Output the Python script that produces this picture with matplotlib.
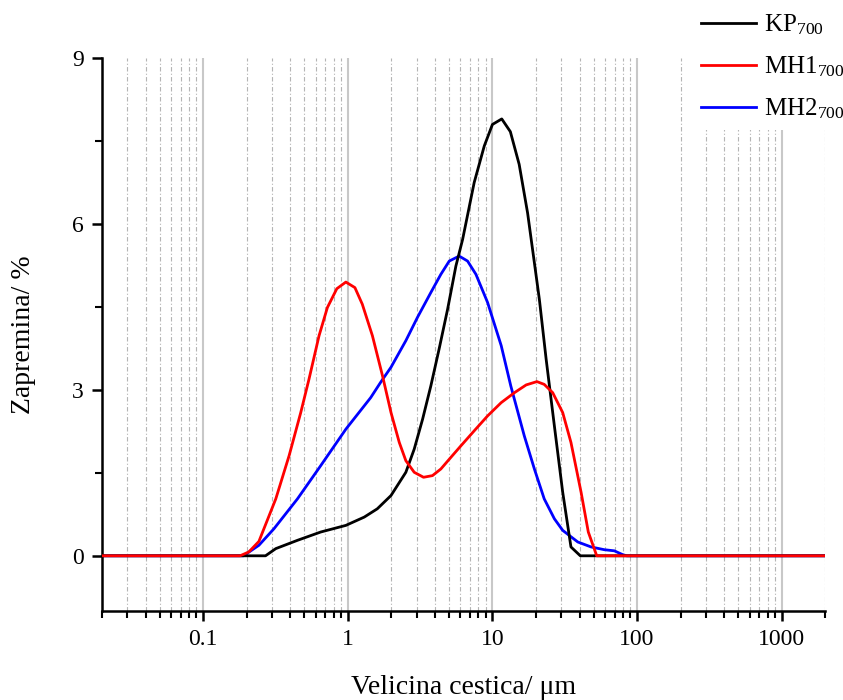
import matplotlib
matplotlib.use('Agg')
import matplotlib.pyplot as plt
from matplotlib.ticker import LogLocator, MultipleLocator, NullFormatter, FixedLocator, FixedFormatter

plt.rcParams['font.family'] = ['Liberation Serif', 'DejaVu Serif']
plt.rcParams['mathtext.fontset'] = 'stix'

# particle size (um) and volume (%)
kp_x = [0.02, 0.27, 0.318, 0.449, 0.65, 0.97, 1.30, 1.60, 1.99, 2.52, 2.88, 3.29, 3.75, 4.28,
        4.90, 5.59, 6.22, 7.48, 8.78, 10.0, 11.6, 13.3, 15.3, 17.5, 21.1, 23.5, 26.8, 30.6,
        34.9, 40.5, 2000]
kp_y = [0, 0, 0.13, 0.28, 0.43, 0.55, 0.70, 0.85, 1.09, 1.51, 1.93, 2.47, 3.07, 3.74,
        4.46, 5.24, 5.72, 6.75, 7.41, 7.80, 7.90, 7.67, 7.08, 6.20, 4.64, 3.56, 2.35, 1.15,
        0.16, 0, 0]

mh1_x = [0.02, 0.18, 0.207, 0.243, 0.318, 0.393, 0.473, 0.539, 0.633, 0.723, 0.84, 0.97,
         1.12, 1.26, 1.48, 1.74, 1.99, 2.27, 2.52, 2.88, 3.34, 3.85, 4.40, 5.16, 6.06, 7.48,
         9.26, 11.5, 14.2, 17.1, 20.3, 22.8, 26.1, 30.6, 34.9, 41.0, 46.0, 52.6, 2000]
mh1_y = [0, 0, 0.07, 0.26, 1.03, 1.81, 2.59, 3.19, 3.98, 4.49, 4.83, 4.95,
         4.85, 4.55, 3.98, 3.25, 2.59, 2.05, 1.72, 1.51, 1.42, 1.45, 1.57, 1.78, 1.99, 2.26,
         2.53, 2.77, 2.95, 3.09, 3.15, 3.10, 2.95, 2.59, 2.05, 1.15, 0.43, 0, 0]

mh2_x = [0.02, 0.19, 0.243, 0.309, 0.449, 0.65, 0.97, 1.44, 1.69, 1.99, 2.52, 3.03, 3.75,
         4.40, 5.03, 5.89, 6.73, 7.69, 9.26, 11.5, 13.4, 16.6, 19.5, 22.8, 26.8, 30.6, 38.9,
         48.1, 59.4, 69.6, 79.6, 85, 2000]
mh2_y = [0, 0, 0.19, 0.49, 1.03, 1.63, 2.29, 2.86, 3.14, 3.41, 3.89, 4.31, 4.76,
         5.09, 5.33, 5.42, 5.33, 5.09, 4.58, 3.80, 3.07, 2.17, 1.57, 1.03, 0.67, 0.46, 0.25,
         0.16, 0.11, 0.09, 0.02, 0, 0]

xticks = [0.1, 1, 10, 100, 1000]
xtick_labels = ['0.1', '1', '10', '100', '1000']
yticks = [0, 3, 6, 9]

fig = plt.figure(figsize=(8.43, 7.0), dpi=100)
ax = fig.add_axes([0.121, 0.127, 0.858, 0.790])

l1, = ax.plot(kp_x, kp_y, color='black', lw=2.0, zorder=3)
l2, = ax.plot(mh1_x, mh1_y, color='red', lw=2.0, zorder=4)
l3, = ax.plot(mh2_x, mh2_y, color='blue', lw=2.0, zorder=2)

ax.set_xscale('log')
ax.set_xlim(0.02, 2000)
ax.set_ylim(-1, 9)

ax.xaxis.set_major_locator(FixedLocator(xticks))
ax.xaxis.set_major_formatter(FixedFormatter(xtick_labels))
ax.xaxis.set_minor_locator(LogLocator(base=10, subs=[2, 3, 4, 5, 6, 7, 8, 9], numticks=20))
ax.xaxis.set_minor_formatter(NullFormatter())
ax.yaxis.set_major_locator(FixedLocator(yticks))
ax.yaxis.set_minor_locator(MultipleLocator(1.5))

ax.grid(True, which='major', axis='x', color='#c8c8c8', lw=1.5, ls='-', zorder=0)
ax.grid(True, which='minor', axis='x', color='#b4b4b4', lw=0.8, ls=(0, (4, 2, 1, 2)), zorder=0)

for s in ['top', 'right']:
    ax.spines[s].set_visible(False)
for s in ['left', 'bottom']:
    ax.spines[s].set_linewidth(1.8)

ax.tick_params(which='major', direction='out', length=7, width=1.8, labelsize=17, pad=6)
ax.tick_params(which='minor', direction='out', length=5, width=1.5)

ax.set_xlabel('Velicina cestica/ μm', fontsize=20, labelpad=18)
ax.set_ylabel('Zapremina/ %', fontsize=20, labelpad=26)

leg = ax.legend([l1, l2, l3],
                ['KP$_{\\mathregular{700}}$', 'MH1$_{\\mathregular{700}}$', 'MH2$_{\\mathregular{700}}$'],
                loc='upper right', bbox_to_anchor=(1.012, 0.995), bbox_transform=fig.transFigure,
                fontsize=18, frameon=True, handlelength=2.2, labelspacing=0.72,
                borderpad=0.35, handletextpad=0.3, borderaxespad=0.0)
leg.get_frame().set_facecolor('white')
leg.get_frame().set_edgecolor('none')
leg.get_frame().set_alpha(1)

fig.savefig('out.png', dpi=100)
